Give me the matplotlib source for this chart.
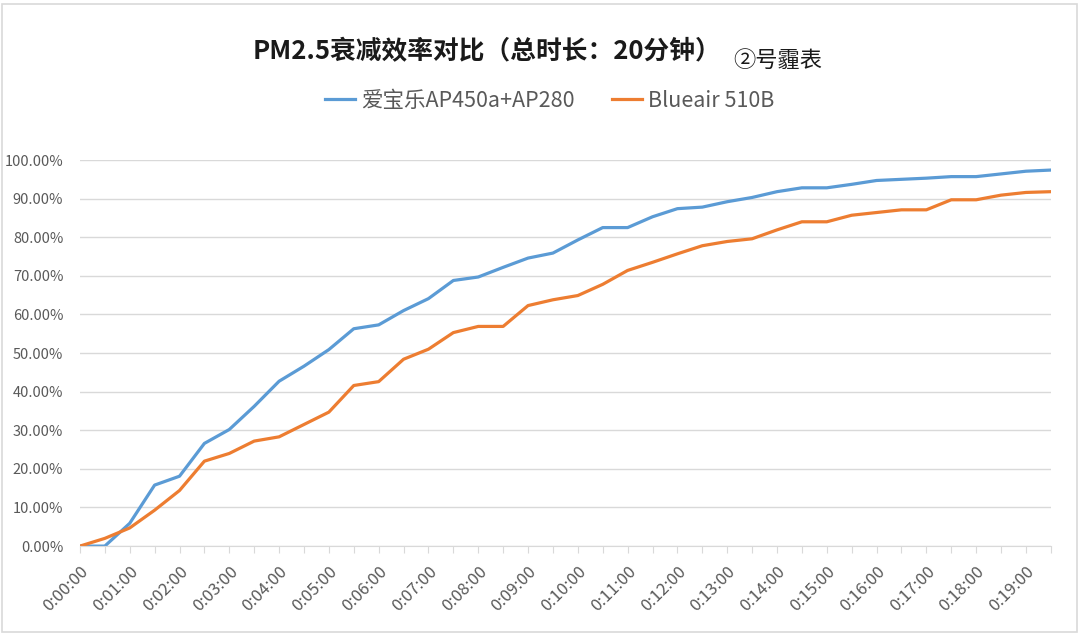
import matplotlib
matplotlib.use('Agg')
import matplotlib.pyplot as plt
from matplotlib.patches import Rectangle
from matplotlib.ticker import PercentFormatter

plt.rcParams['font.family'] = ['Noto Sans CJK SC', 'DejaVu Sans']

times = ['0:00:00', '0:00:30', '0:01:00', '0:01:30', '0:02:00', '0:02:30', '0:03:00', '0:03:30',
         '0:04:00', '0:04:30', '0:05:00', '0:05:30', '0:06:00', '0:06:30', '0:07:00', '0:07:30',
         '0:08:00', '0:08:30', '0:09:00', '0:09:30', '0:10:00', '0:10:30', '0:11:00', '0:11:30',
         '0:12:00', '0:12:30', '0:13:00', '0:13:30', '0:14:00', '0:14:30', '0:15:00', '0:15:30',
         '0:16:00', '0:16:30', '0:17:00', '0:17:30', '0:18:00', '0:18:30', '0:19:00', '0:19:30']

# decay efficiency, %
aibaole = [0.0, 0.0, 5.9, 15.8, 18.1, 26.6, 30.2, 36.2, 42.7, 46.6,
           50.9, 56.3, 57.3, 61.0, 64.1, 68.8, 69.7, 72.2, 74.6, 75.9,
           79.3, 82.5, 82.5, 85.3, 87.4, 87.8, 89.2, 90.3, 91.8, 92.8,
           92.8, 93.7, 94.7, 95.0, 95.3, 95.7, 95.7, 96.4, 97.1, 97.4]
blueair = [0.0, 2.0, 4.7, 9.3, 14.4, 22.0, 24.0, 27.2, 28.3, 31.5,
           34.7, 41.6, 42.6, 48.4, 51.0, 55.3, 56.9, 56.9, 62.3, 63.8,
           64.9, 67.8, 71.4, 73.5, 75.7, 77.8, 78.9, 79.6, 81.9, 84.0,
           84.0, 85.7, 86.4, 87.1, 87.1, 89.7, 89.7, 90.9, 91.6, 91.8]

labels = ['爱宝乐AP450a+AP280', 'Blueair 510B']
colors = ['#5B9BD5', '#ED7D31']

fig = plt.figure(figsize=(10.8, 6.35), dpi=100)
ax = fig.add_axes([0.074, 0.14, 0.899, 0.608])

x = list(range(len(times)))
ax.plot(x, aibaole, color=colors[0], lw=2.3, label=labels[0], solid_joinstyle='round')
ax.plot(x, blueair, color=colors[1], lw=2.3, label=labels[1], solid_joinstyle='round')

ax.set_xlim(0, len(times) - 1)
ax.set_ylim(0, 100)
ax.set_yticks(range(0, 101, 10))
ax.yaxis.set_major_formatter(PercentFormatter(decimals=2))
ax.grid(axis='y', color='#d9d9d9', lw=1)
ax.set_axisbelow(True)

ax.set_xticks(x)
ax.set_xticklabels([t if i % 2 == 0 else '' for i, t in enumerate(times)],
                   rotation=45, ha='right', rotation_mode='anchor')
ax.tick_params(axis='x', length=5, color='#d9d9d9', labelsize=12, labelcolor='#595959', pad=7)
ax.tick_params(axis='y', length=0, labelsize=10.5, labelcolor='#595959', pad=12)

for s in ['top', 'right', 'left']:
  ax.spines[s].set_visible(False)
ax.spines['bottom'].set_color('#d9d9d9')

fig.text(0.451, 0.918, 'PM2.5衰减效率对比（总时长：20分钟）', ha='center', va='center',
         fontsize=18.5, fontweight='bold', color='#1a1a1a')
fig.text(0.679, 0.905, '②号霾表', ha='left', va='center', fontsize=16, color='#1a1a1a')

fig.legend(loc='center', bbox_to_anchor=(0.509, 0.841), ncol=2, frameon=False,
           fontsize=15.5, labelcolor='#595959', handlelength=1.4, handletextpad=0.3,
           columnspacing=1.7)

fig.patches.append(Rectangle((0.002, 0.005), 0.995, 0.988, transform=fig.transFigure,
                             fill=False, edgecolor='#d9d9d9', lw=1.2))

fig.savefig('out.png', dpi=100)
